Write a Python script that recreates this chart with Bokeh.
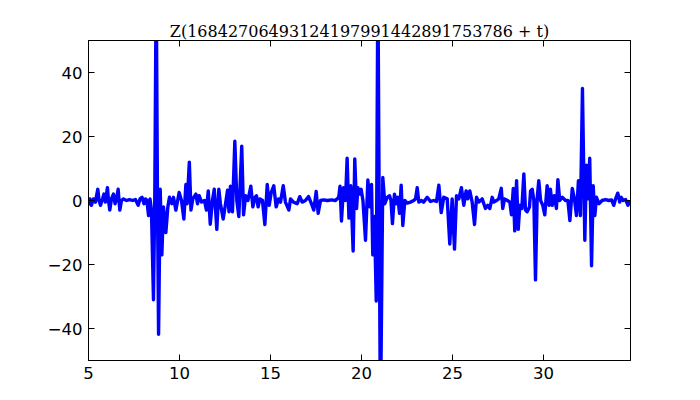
from bokeh.plotting import figure
from bokeh.models import Range1d, FixedTicker, LinearAxis, CustomJSTickFormatter
from bokeh.embed import file_html
from bokeh.resources import INLINE

title_text = "Z(16842706493124197991442891753786 + t)"

t_vals = [
    5.00, 5.08, 5.16, 5.27, 5.38, 5.51, 5.58, 5.66, 5.77, 5.85, 5.93, 6.04, 6.10, 6.17,
    6.26, 6.37, 6.46, 6.54, 6.63, 6.72, 6.81, 6.92, 7.09, 7.25, 7.42, 7.58, 7.73, 7.83,
    7.94, 8.05, 8.13, 8.21, 8.30, 8.38, 8.46, 8.57, 8.64, 8.72, 8.79, 8.85, 8.94, 9.03,
    9.12, 9.25, 9.36, 9.45, 9.58, 9.67, 9.80, 9.98, 10.11, 10.24, 10.35, 10.42, 10.54,
    10.63, 10.73, 10.90, 10.99, 11.08, 11.21, 11.37, 11.48, 11.58, 11.69, 11.81, 11.91,
    12.05, 12.16, 12.25, 12.40, 12.53, 12.64, 12.72, 12.80, 12.91, 13.04, 13.15, 13.26,
    13.42, 13.52, 13.63, 13.76, 13.92, 14.03, 14.15, 14.23, 14.32, 14.42, 14.56, 14.69,
    14.82, 14.93, 15.04, 15.18, 15.31, 15.44, 15.55, 15.70, 15.82, 16.01, 16.10, 16.26,
    16.47, 16.61, 16.74, 16.92, 17.09, 17.25, 17.38, 17.51, 17.62, 17.75, 17.91, 18.13,
    18.35, 18.57, 18.75, 18.82, 18.90, 19.01, 19.12, 19.21, 19.31, 19.41, 19.54, 19.63,
    19.73, 19.80, 19.89, 19.98, 20.08, 20.22, 20.35, 20.46, 20.55, 20.62, 20.71, 20.81,
    20.90, 21.04, 21.17, 21.28, 21.41, 21.54, 21.62, 21.70, 21.81, 21.91, 22.00, 22.09,
    22.18, 22.27, 22.38, 22.51, 22.69, 22.87, 22.97, 23.06, 23.15, 23.30, 23.41, 23.61,
    23.79, 23.96, 24.12, 24.25, 24.38, 24.52, 24.71, 24.85, 24.98, 25.11, 25.22, 25.35,
    25.49, 25.62, 25.75, 25.84, 25.95, 26.08, 26.21, 26.32, 26.45, 26.63, 26.81, 26.94,
    27.05, 27.18, 27.27, 27.42, 27.54, 27.68, 27.76, 27.86, 28.02, 28.15, 28.24, 28.34,
    28.42, 28.52, 28.61, 28.70, 28.81, 28.92, 29.01, 29.10, 29.23, 29.29, 29.38, 29.47,
    29.56, 29.65, 29.74, 29.84, 29.96, 30.07, 30.20, 30.31, 30.38, 30.48, 30.60, 30.71,
    30.79, 30.89, 31.03, 31.21, 31.34, 31.45, 31.58, 31.70, 31.81, 31.92, 32.03, 32.14,
    32.27, 32.36, 32.46, 32.54, 32.64, 32.73, 32.82, 32.91, 33.04, 33.22, 33.41, 33.60,
    33.74, 33.86, 33.96, 34.08, 34.19, 34.27, 34.38, 34.51, 34.64, 34.75,
]

z_vals = [
    -1.5, 0.5, -1.5, 0.5, -0.5, 3.5, 0.0, -1.5, 0.5, 2.0, -0.5, 4.0, 0.0, -3.0,
    0.5, 2.0, -1.0, 0.5, 3.5, -3.0, 0.0, 0.5, 0.0, 0.3, 0.0, 0.3, -1.5, 0.5,
    1.0, -1.0, 0.5, 0.0, -4.7, 0.5, -3.0, -31.0, 0.0, 70.0, 0.0, -41.8, 3.5, -17.0,
    -2.0, -10.0, -2.0, 1.0, -1.0, 1.0, -3.0, 2.5, 0.0, -5.8, 5.0, -1.0, 12.0,
    -3.0, 0.5, 2.0, -1.0, 1.5, -0.5, 0.0, -3.0, 3.0, -7.4, 0.0, 3.5,
    -9.0, 3.5, -1.0, -5.8, -1.0, 3.2, -3.5, 4.5, -3.5, 18.5, 0.0, -5.0,
    17.0, -4.5, 1.5, 0.0, 4.5, -2.0, 1.0, 1.5, -2.0, 0.5, 0.0, -7.5,
    5.0, -1.5, 2.5, 4.6, -2.0, 0.5, -0.5, 4.6, -0.5, -3.0, 0.5, -0.5,
    -1.0, 1.2, -0.5, 0.0, 1.2, -1.0, -3.0, 2.8, -4.0, 0.0, 0.2, 0.0,
    0.2, 0.0, 1.0, 4.5, -6.4, 4.0, 0.0, 13.2, -5.5, 4.6, -15.8, 13.0,
    -2.5, 4.0, 2.0, 3.5, 0.0, -12.4, 6.4, -2.0, 5.0, -17.0, -5.0, -31.4,
    70.0, -70.0, 7.2, -1.0, 1.0, 1.5, 0.0, -7.2, 2.0, -1.0, 1.0, -4.0,
    4.8, -7.8, 0.0, -0.8, -0.5, 0.0, 0.5, 4.0, -0.5, 0.0, -0.5, 1.0,
    -0.3, 0.0, -0.3, 4.8, -3.8, 1.0, 0.5, -13.6, 0.5, -15.2, 1.5, 0.5,
    4.0, -1.5, 3.0, 0.5, 3.0, -0.5, -7.5, 1.0, -0.5, 0.5, -2.5, -1.5,
    -2.5, 1.0, -0.5, 0.0, 0.5, 3.8, -2.5, 0.5, 0.0, -0.5, -4.5, 3.8,
    -9.5, 6.2, -9.0, -1.5, -2.5, 8.3, -3.0, -3.5, -2.0, 3.0, 3.5, 0.0,
    -24.8, 0.5, 6.2, 0.0, -1.5, -4.5, 4.6, -1.5, 3.5, -1.5, 1.5, -2.5,
    6.5, 0.0, 1.0, 0.0, 0.0, -6.3, 3.8, 0.5, -4.7, 6.2, -4.7, 35.0,
    -12.4, 11.0, 0.5, 13.2, -20.4, 4.6, -4.7, 1.0, -1.0, 0.0, 0.3, 0.0,
    0.2, -1.5, 0.5, 2.3, -0.5, 1.0, 0.0, 0.3, -1.5, 0.0,
]

x_ticks = [5, 10, 15, 20, 25, 30]
y_ticks = [-40, -20, 0, 20, 40]

p = figure(
    frame_width=542, frame_height=320,
    x_range=Range1d(5, 34.78), y_range=Range1d(-50, 50),
    output_backend="svg", toolbar_location=None,
    min_border_left=88, min_border_right=62,
    min_border_top=40, min_border_bottom=32,
    background_fill_color="white", border_fill_color="white",
)

p.title.text = title_text
p.title.align = "center"
p.title.text_font = "DejaVu Serif"
p.title.text_font_size = "16px"
p.title.text_font_style = "normal"
p.title.text_color = "black"
p.title.standoff = 0

p.line(t_vals, z_vals, line_color="#0000ff", line_width=3.4, line_join="round")

p.grid.visible = False
p.outline_line_color = "black"
p.outline_line_width = 1

minus_fmt = CustomJSTickFormatter(code="return tick < 0 ? '\u2212' + Math.abs(tick) : String(tick);")

def style_axis(ax):
    ax.axis_line_color = "black"
    ax.axis_line_width = 1
    ax.major_tick_in = 6
    ax.major_tick_out = 0
    ax.major_tick_line_color = "black"
    ax.minor_tick_line_color = None
    ax.major_label_text_font = "DejaVu Sans"
    ax.major_label_text_font_size = "16.5px"
    ax.major_label_text_color = "black"
    ax.major_label_standoff = 6

p.xaxis.ticker = FixedTicker(ticks=x_ticks)
p.yaxis.ticker = FixedTicker(ticks=y_ticks)
p.xaxis.formatter = minus_fmt
p.yaxis.formatter = minus_fmt
style_axis(p.xaxis[0])
style_axis(p.yaxis[0])

blank = CustomJSTickFormatter(code="return '';")
top = LinearAxis(ticker=FixedTicker(ticks=x_ticks), formatter=blank)
right = LinearAxis(ticker=FixedTicker(ticks=y_ticks), formatter=blank)
style_axis(top)
style_axis(right)
top.major_label_standoff = 0
right.major_label_standoff = 0
p.add_layout(top, "above")
p.add_layout(right, "right")

open("out.html", "w").write(file_html(p, INLINE))
